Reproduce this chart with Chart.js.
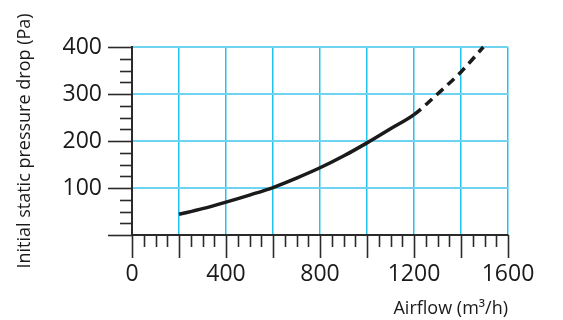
<!DOCTYPE html>
<html>
<head>
<meta charset="utf-8">
<script src="https://cdn.jsdelivr.net/npm/chart.js@4/dist/chart.umd.min.js"></script>
<style>
  html, body { margin: 0; padding: 0; background: #ffffff; }
  #wrap { width: 563px; height: 320px; position: relative; }
</style>
</head>
<body>
<div id="wrap"><canvas id="c" width="563" height="320"></canvas></div>
<script>
// ---- data ----
const airflow  = [200, 300, 400, 500, 600, 700, 800, 900, 1000, 1100, 1200, 1300, 1400, 1495];
const pressure = [44, 56, 70, 85, 101, 121, 143, 168, 196, 226, 256, 300, 347, 400];
const dashedFrom = 1200;           // measured part ends here, extrapolated part is dashed
const xTickLabels = [0, 400, 800, 1200, 1600];
const yTickLabels = [100, 200, 300, 400];
const xTitle = 'Airflow (m³/h)';
const yTitle = 'Initial static pressure drop (Pa)';

const FONT = "'Open Sans', sans-serif";
const INK = '#1a1a1a';

const points = airflow.map((x, i) => ({ x: x, y: pressure[i] }));

const tickMarks = {
  id: 'tickMarks',
  afterDraw(chart) {
    const { ctx, scales: { x, y } } = chart;
    const y0 = y.getPixelForValue(0);
    const x0 = x.getPixelForValue(0);
    ctx.save();
    ctx.strokeStyle = '#2a2a2a';
    ctx.lineWidth = 1.6;
    x.ticks.forEach(t => {
      const px = Math.round(x.getPixelForValue(t.value)) + 0.5;
      const len = (t.value % 200 === 0) ? 23 : 12;
      ctx.beginPath(); ctx.moveTo(px, y0); ctx.lineTo(px, y0 + len); ctx.stroke();
    });
    y.ticks.forEach(t => {
      const py = Math.round(y.getPixelForValue(t.value)) + 0.5;
      const len = (t.value % 100 === 0) ? 24 : 12;
      ctx.beginPath(); ctx.moveTo(x0, py); ctx.lineTo(x0 - len, py); ctx.stroke();
    });
    ctx.restore();
  }
};

new Chart(document.getElementById('c'), {
  type: 'line',
  data: {
    datasets: [{
      data: points,
      borderColor: INK,
      borderWidth: 3.5,
      pointRadius: 0,
      fill: false,
      cubicInterpolationMode: 'monotone',
      clip: false,
      segment: {
        borderDash: ctx => ctx.p0.parsed.x >= dashedFrom ? [9, 6] : undefined
      }
    }]
  },
  options: {
    responsive: false,
    animation: false,
    events: [],
    layout: { padding: { left: 0, right: 55, top: 47, bottom: 0 } },
    plugins: { legend: { display: false }, tooltip: { enabled: false } },
    scales: {
      x: {
        type: 'linear',
        min: 0, max: 1600,
        afterFit: s => { s.height = 85; },
        border: { display: true, color: '#2a2a2a', width: 2 },
        grid: {
          drawTicks: true,
          tickLength: 23,
          tickColor: 'rgba(0,0,0,0)',
          lineWidth: 1.5,
          color: c => (c.tick && c.tick.value > 0 && c.tick.value % 200 === 0) ? '#22c1ee' : 'rgba(0,0,0,0)'
        },
        ticks: {
          stepSize: 50,
          autoSkip: false,
          maxRotation: 0,
          padding: 3,
          color: INK,
          font: { family: FONT, size: 23 },
          callback: v => xTickLabels.includes(v) ? String(v) : ''
        },
        title: {
          display: true,
          text: xTitle,
          align: 'end',
          color: INK,
          font: { family: FONT, size: 18 },
          padding: { top: 0, bottom: 0 }
        }
      },
      y: {
        type: 'linear',
        min: 0, max: 400,
        afterFit: s => { s.width = 132; },
        border: { display: true, color: '#2a2a2a', width: 2 },
        grid: {
          drawTicks: true,
          tickLength: 24,
          tickColor: 'rgba(0,0,0,0)',
          lineWidth: 2,
          color: c => (c.tick && c.tick.value > 0 && c.tick.value % 100 === 0) ? '#6fd4f2' : 'rgba(0,0,0,0)'
        },
        ticks: {
          stepSize: 25,
          autoSkip: false,
          padding: 6,
          color: INK,
          font: { family: FONT, size: 23 },
          callback: v => yTickLabels.includes(v) ? String(v) : ''
        },
        title: {
          display: true,
          text: yTitle,
          color: INK,
          font: { family: FONT, size: 18 },
          padding: { top: 14, bottom: 0 }
        }
      }
    }
  },
  plugins: [tickMarks]
});
</script>
</body>
</html>
